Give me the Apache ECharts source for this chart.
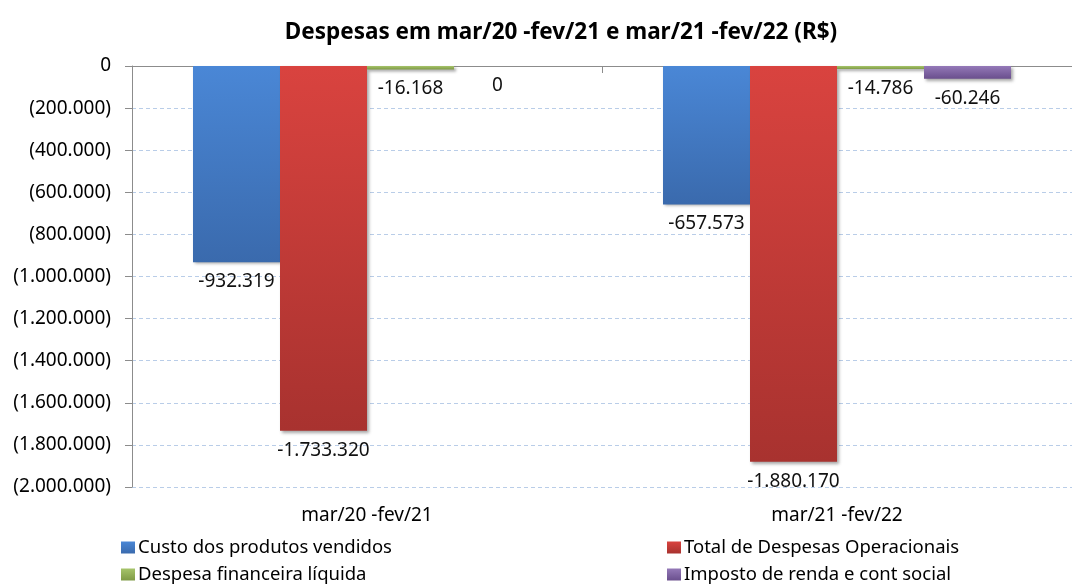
<!DOCTYPE html>
<html>
<head>
<meta charset="utf-8">
<script src="https://cdn.jsdelivr.net/npm/echarts@6/dist/echarts.min.js"></script>
<style>
  html, body { margin: 0; padding: 0; background: #fff; }
  #chart { width: 1072px; height: 585px; }
</style>
</head>
<body>
<div id="chart"></div>
<script>
var categories = ['mar/20 -fev/21', 'mar/21 -fev/22']
var seriesNames = ['Custo dos produtos vendidos', 'Total de Despesas Operacionais', 'Despesa financeira líquida', 'Imposto de renda e cont social']
var custo = [-932319, -657573]
var totalDespesas = [-1733320, -1880170]
var despFinanceira = [-16168, -14786]
var imposto = [0, -60246]

var font = 'Noto Sans'

// 1234567 -> 1.234.567
function milhar (v) {
  var s = String(Math.round(Math.abs(v)))
  return s.replace(/\B(?=(\d{3})+(?!\d))/g, '.')
}

function grad (top, bottom) {
  return new echarts.graphic.LinearGradient(0, 0, 0, 1, [
    { offset: 0, color: top },
    { offset: 1, color: bottom }
  ])
}

var colors = [
  grad('#4a87d6', '#3a6aad'),
  grad('#d9433f', '#a8322f'),
  grad('#a6c46a', '#7f9a45'),
  grad('#9479b8', '#6a4f8d')
]

function makeSeries (name, values, color) {
  return {
    name: name,
    type: 'bar',
    barWidth: 87,
    barGap: '0%',
    data: values.map(function (v) {
      var item = { value: v }
      if (v === 0) item.label = { position: 'bottom' }
      return item
    }),
    itemStyle: {
      color: color,
      shadowColor: 'rgba(0,0,0,0.35)',
      shadowBlur: 3,
      shadowOffsetX: 2,
      shadowOffsetY: 2
    },
    label: {
      show: true,
      position: 'outside',
      distance: 10,
      fontFamily: font,
      fontSize: 19,
      color: '#111',
      formatter: function (p) { return (p.value < 0 ? '-' : '') + milhar(p.value) }
    }
  }
}

// one legend per entry so the 2x2 layout is fixed
function legendAt (name, x, y) {
  return {
    data: [name],
    left: x,
    top: y,
    padding: 0,
    itemWidth: 14,
    itemHeight: 12,
    itemGap: 0,
    icon: 'rect',
    textStyle: { fontFamily: font, fontSize: 18.5, color: '#000', padding: [0, 0, 0, -2] }
  }
}

var chart = echarts.init(document.getElementById('chart'))
chart.setOption({
  animation: false,
  title: {
    text: 'Despesas em mar/20 -fev/21 e mar/21 -fev/22 (R$)',
    left: 556,
    textAlign: 'center',
    top: 16,
    textStyle: { fontFamily: font, fontSize: 22.5, fontWeight: 'bold', color: '#000' }
  },
  legend: [
    legendAt(seriesNames[0], 121, 538),
    legendAt(seriesNames[1], 667, 538),
    legendAt(seriesNames[2], 121, 565),
    legendAt(seriesNames[3], 667, 565)
  ],
  grid: { left: 132, right: -12, top: 66, bottom: 98 },
  xAxis: [
    {
      type: 'category',
      data: categories,
      position: 'bottom',
      axisLine: { show: false, onZero: false },
      axisTick: { show: false },
      axisLabel: { fontFamily: font, fontSize: 19, color: '#000', margin: 19 }
    },
    {
      type: 'category',
      data: categories,
      position: 'top',
      axisLine: { onZero: true, lineStyle: { color: '#8c8c8c', width: 1 } },
      axisTick: { show: true, inside: true, length: 7, lineStyle: { color: '#8c8c8c' } },
      axisLabel: { show: false }
    }
  ],
  yAxis: {
    type: 'value',
    min: -2000000,
    max: 0,
    interval: 200000,
    axisLine: { show: true, lineStyle: { color: '#8c8c8c' } },
    axisTick: { show: true, length: 7, lineStyle: { color: '#8c8c8c' } },
    axisLabel: {
      fontFamily: font,
      fontSize: 19,
      color: '#000',
      margin: 21,
      formatter: function (v) { return v < 0 ? '(' + milhar(v) + ')' : milhar(v) }
    },
    splitLine: { lineStyle: { color: '#b9cde8', type: [4, 3], width: 1 } }
  },
  series: [
    makeSeries(seriesNames[0], custo, colors[0]),
    makeSeries(seriesNames[1], totalDespesas, colors[1]),
    makeSeries(seriesNames[2], despFinanceira, colors[2]),
    makeSeries(seriesNames[3], imposto, colors[3])
  ]
})
</script>
</body>
</html>
